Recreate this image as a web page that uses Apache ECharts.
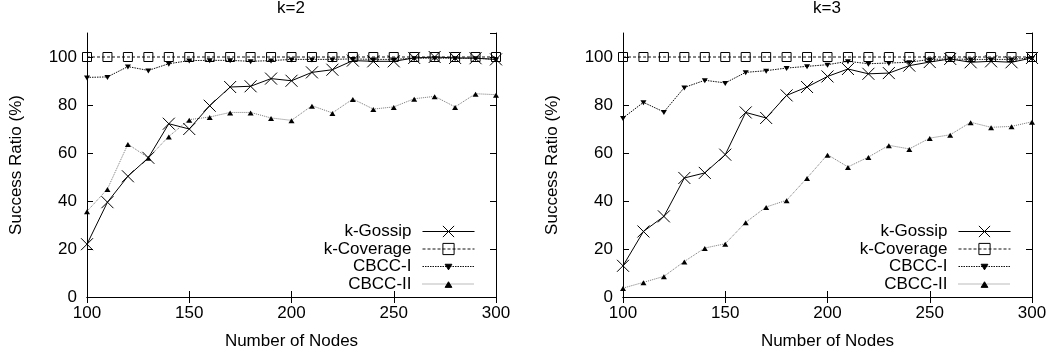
<!DOCTYPE html>
<html>
<head>
<meta charset="utf-8">
<title>Success Ratio vs Number of Nodes</title>
<script src="https://cdn.jsdelivr.net/npm/echarts@6/dist/echarts.min.js"></script>
<style>
html, body { margin: 0; padding: 0; background: #fff; }
#main { width: 1051px; height: 360px; }
</style>
</head>
<body>
<div id="main"></div>
<script>
// x values (number of nodes)
const nodes = [100, 110, 120, 130, 140, 150, 160, 170, 180, 190, 200, 210, 220, 230, 240, 250, 260, 270, 280, 290, 300];
const xTicks = [100, 150, 200, 250, 300];
const yTicks = [0, 20, 40, 60, 80, 100];
const titles = ['k=2', 'k=3'];
const names = ['k-Gossip', 'k-Coverage', 'CBCC-I', 'CBCC-II'];

// k=2
const gossipK2 = [22, 39.5, 50.3, 58, 72.2, 70, 79.7, 87.5, 87.8, 91, 90.1, 93.6, 94.7, 98.5, 98.2, 98.2, 99.6, 100, 99.6, 99.5, 99];
const coverageK2 = [100, 100, 100, 100, 100, 100, 100, 100, 100, 100, 100, 100, 100, 100, 100, 100, 100, 100, 100, 100, 100];
const cbcc1K2 = [91.5, 91.7, 96, 94.4, 97.2, 98.5, 98.6, 98.6, 98.2, 98.5, 99, 99, 99, 99.2, 99, 99, 99.5, 99.5, 99.5, 99.5, 99];
const cbcc2K2 = [35.7, 45, 63.7, 58, 66.9, 73.9, 75, 76.9, 76.9, 74.6, 73.6, 79.7, 76.7, 82.5, 78.3, 79.2, 82.6, 83.6, 79.2, 84.7, 84.3];

// k=3
const gossipK3 = [13, 27.3, 33.6, 49.6, 51.7, 59.3, 76.9, 74.6, 84, 87.5, 91.9, 95, 93, 93.3, 96.4, 97.9, 99.2, 97.8, 98.2, 97.8, 99.6];
const coverageK3 = [100, 100, 100, 100, 100, 100, 100, 100, 100, 100, 100, 100, 100, 100, 100, 100, 100, 100, 100, 100, 100];
const cbcc1K3 = [74.6, 81.1, 77.1, 87.3, 90.3, 89.2, 93.6, 94.3, 95.4, 96.1, 96.8, 98.2, 97.2, 97.5, 97.8, 99, 99.2, 99, 99, 99, 99.6];
const cbcc2K3 = [3.7, 6.1, 8.6, 14.8, 20.4, 22.2, 31.1, 37.5, 40.3, 49.6, 59.3, 54.2, 58.3, 63.2, 61.7, 66.2, 67.6, 72.8, 70.7, 71.1, 73];

const font = 'Liberation Sans, Arial, Helvetica, sans-serif';
const black = '#000';

// marker + line look per series (gnuplot style)
const looks = {
    'k-Gossip': { symbol: 'path://M0,0L10,10M10,0L0,10', size: 12, fill: black, border: 1, line: { color: black, type: 'solid' } },
    'k-Coverage': { symbol: 'rect', size: 9, fill: 'rgba(0,0,0,0)', border: 1, line: { color: '#111', type: [3, 2] } },
    'CBCC-I': { symbol: 'path://M0,0M10,10M2,3L8,3L5,8Z', size: 10, fill: black, border: 0, line: { color: '#111', type: [1.5, 1] } },
    'CBCC-II': { symbol: 'path://M0,0M10,10M2,8L8,8L5,3Z', size: 10, fill: black, border: 0, line: { color: '#777', type: [1, 1] } }
};

const grids = [
    { left: 87, right: 555, top: 33, bottom: 63 },
    { left: 623, right: 19, top: 33, bottom: 63 }
];

const makeSeries = (name, values, gi) => {
    const look = looks[name];
    return {
        name: name,
        type: 'line',
        xAxisIndex: gi * 2,
        yAxisIndex: gi * 2,
        data: values.map((v, i) => [nodes[i], v]),
        symbol: look.symbol,
        symbolSize: look.size,
        showAllSymbol: true,
        clip: false,
        itemStyle: { color: look.fill, borderColor: black, borderWidth: look.border },
        lineStyle: { color: look.line.color, type: look.line.type, width: 1 },
        emphasis: { disabled: true }
    };
};

const xAxes = [];
const yAxes = [];
grids.forEach((g, gi) => {
    const tick = { show: true, inside: true, length: 6, lineStyle: { color: black } };
    const line = { show: true, lineStyle: { color: black, width: 1 } };
    xAxes.push({
        type: 'value', gridIndex: gi, position: 'bottom',
        min: xTicks[0], max: xTicks[xTicks.length - 1], interval: 50,
        axisLine: line, axisTick: tick, splitLine: { show: false },
        axisLabel: { color: black, fontSize: 17, fontFamily: font, margin: 8 },
        name: 'Number of Nodes', nameLocation: 'middle', nameGap: 36,
        nameTextStyle: { color: black, fontSize: 17, fontFamily: font }
    });
    xAxes.push({
        type: 'value', gridIndex: gi, position: 'top',
        min: xTicks[0], max: xTicks[xTicks.length - 1], interval: 50,
        axisLine: line, axisTick: tick, splitLine: { show: false },
        axisLabel: { show: false }
    });
    yAxes.push({
        type: 'value', gridIndex: gi, position: 'left',
        min: yTicks[0], max: 110, interval: 20,
        axisLine: line, axisTick: tick, splitLine: { show: false },
        axisLabel: { color: black, fontSize: 17, fontFamily: font, margin: 10, showMaxLabel: false },
        name: 'Success Ratio (%)', nameLocation: 'middle', nameGap: 62, nameRotate: 90,
        nameTextStyle: { color: black, fontSize: 17, fontFamily: font }
    });
    yAxes.push({
        type: 'value', gridIndex: gi, position: 'right',
        min: yTicks[0], max: 110, interval: 20,
        axisLine: line, axisTick: tick, splitLine: { show: false },
        axisLabel: { show: false }
    });
});

const legendBase = {
    orient: 'vertical', align: 'right', top: 218,
    itemWidth: 52, itemHeight: 14, itemGap: 0.5,
    selectedMode: false, data: names,
    lineStyle: { width: 1 },
    itemStyle: { borderWidth: 1 },
    textStyle: { color: black, fontSize: 17, fontFamily: font, lineHeight: 17, padding: [0, 6, 0, 0] }
};

const chart = echarts.init(document.getElementById('main'), null, { renderer: 'canvas' });
const option = {
    animation: false,
    backgroundColor: '#fff',
    title: titles.map((t, gi) => ({
        text: t,
        left: gi === 0 ? 291 : 827,
        textAlign: 'center',
        top: 0, padding: 0,
        textStyle: { color: black, fontSize: 17, fontWeight: 'normal', fontFamily: font }
    })),
    legend: [
        Object.assign({}, legendBase, { right: 571 }),
        Object.assign({}, legendBase, { right: 35 })
    ],
    grid: grids,
    xAxis: xAxes,
    yAxis: yAxes,
    series: [
        makeSeries('k-Gossip', gossipK2, 0),
        makeSeries('k-Coverage', coverageK2, 0),
        makeSeries('CBCC-I', cbcc1K2, 0),
        makeSeries('CBCC-II', cbcc2K2, 0),
        makeSeries('k-Gossip', gossipK3, 1),
        makeSeries('k-Coverage', coverageK3, 1),
        makeSeries('CBCC-I', cbcc1K3, 1),
        makeSeries('CBCC-II', cbcc2K3, 1)
    ]
};
chart.setOption(option);
</script>
</body>
</html>
